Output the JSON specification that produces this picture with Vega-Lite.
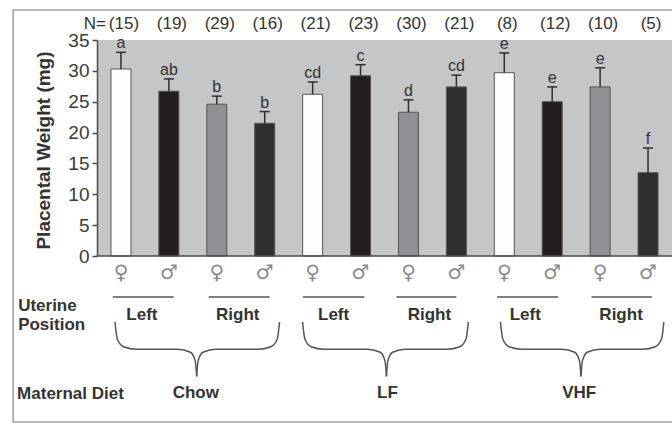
{
  "$schema": "https://vega.github.io/schema/vega-lite/v6.json",
  "width": 575,
  "height": 216,
  "autosize": {"type": "none"},
  "padding": {"left": 97, "top": 40, "right": 0, "bottom": 169},
  "background": "#ffffff",
  "config": {
    "view": {"fill": "#c4c6c8", "stroke": null},
    "font": "Liberation Sans",
    "axisY": {
      "title": "Placental Weight (mg)", "values": [0, 5, 10, 15, 20, 25, 30, 35],
      "grid": false, "domainColor": "#4a4a4a", "domainWidth": 1.5,
      "tickColor": "#4a4a4a", "tickSize": 5, "tickWidth": 1.5,
      "labelFont": "Liberation Sans", "labelFontSize": 19, "labelColor": "#3a3a3a", "labelPadding": 3,
      "titleFont": "Liberation Sans", "titleFontSize": 19, "titleFontWeight": "bold", "titleColor": "#333333",
      "titleX": -54, "titleY": 110, "titleBaseline": "middle", "titleAlign": "center", "titleAngle": -90
    }
  },
  "datasets": {
    "bars": [
      {"bar": "Chow-Left-F", "diet": "Chow", "position": "Left", "sex": "♀", "weight": 30.3, "upper": 33.0, "letter": "a", "n": 15},
      {"bar": "Chow-Left-M", "diet": "Chow", "position": "Left", "sex": "♂", "weight": 26.7, "upper": 28.7, "letter": "ab", "n": 19},
      {"bar": "Chow-Right-F", "diet": "Chow", "position": "Right", "sex": "♀", "weight": 24.6, "upper": 25.9, "letter": "b", "n": 29},
      {"bar": "Chow-Right-M", "diet": "Chow", "position": "Right", "sex": "♂", "weight": 21.5, "upper": 23.4, "letter": "b", "n": 16},
      {"bar": "LF-Left-F", "diet": "LF", "position": "Left", "sex": "♀", "weight": 26.2, "upper": 28.2, "letter": "cd", "n": 21},
      {"bar": "LF-Left-M", "diet": "LF", "position": "Left", "sex": "♂", "weight": 29.2, "upper": 31.0, "letter": "c", "n": 23},
      {"bar": "LF-Right-F", "diet": "LF", "position": "Right", "sex": "♀", "weight": 23.3, "upper": 25.3, "letter": "d", "n": 30},
      {"bar": "LF-Right-M", "diet": "LF", "position": "Right", "sex": "♂", "weight": 27.4, "upper": 29.3, "letter": "cd", "n": 21},
      {"bar": "VHF-Left-F", "diet": "VHF", "position": "Left", "sex": "♀", "weight": 29.7, "upper": 32.9, "letter": "e", "n": 8},
      {"bar": "VHF-Left-M", "diet": "VHF", "position": "Left", "sex": "♂", "weight": 25.0, "upper": 27.4, "letter": "e", "n": 12},
      {"bar": "VHF-Right-F", "diet": "VHF", "position": "Right", "sex": "♀", "weight": 27.4, "upper": 30.5, "letter": "e", "n": 10},
      {"bar": "VHF-Right-M", "diet": "VHF", "position": "Right", "sex": "♂", "weight": 13.5, "upper": 17.5, "letter": "f", "n": 5}
    ],
    "braces": [
      {"part": "Chow-a", "bx": 0.375, "by": -10.7}, {"part": "Chow-a", "bx": 0.425, "by": -13.5}, {"part": "Chow-a", "bx": 0.555, "by": -14.7}, {"part": "Chow-a", "bx": 0.825, "by": -15.1}, {"part": "Chow-a", "bx": 1.68, "by": -15.1}, {"part": "Chow-a", "bx": 1.95, "by": -15.6}, {"part": "Chow-a", "bx": 2.05, "by": -17.0}, {"part": "Chow-a", "bx": 2.08, "by": -19.5},
      {"part": "Chow-b", "bx": 2.08, "by": -19.5}, {"part": "Chow-b", "bx": 2.11, "by": -17.0}, {"part": "Chow-b", "bx": 2.21, "by": -15.6}, {"part": "Chow-b", "bx": 2.48, "by": -15.1}, {"part": "Chow-b", "bx": 3.36, "by": -15.1}, {"part": "Chow-b", "bx": 3.63, "by": -14.7}, {"part": "Chow-b", "bx": 3.76, "by": -13.5}, {"part": "Chow-b", "bx": 3.81, "by": -10.7},
      {"part": "LF-a", "bx": 4.29, "by": -10.7}, {"part": "LF-a", "bx": 4.34, "by": -13.5}, {"part": "LF-a", "bx": 4.47, "by": -14.7}, {"part": "LF-a", "bx": 4.74, "by": -15.1}, {"part": "LF-a", "bx": 5.64, "by": -15.1}, {"part": "LF-a", "bx": 5.91, "by": -15.6}, {"part": "LF-a", "bx": 6.01, "by": -17.0}, {"part": "LF-a", "bx": 6.04, "by": -19.5},
      {"part": "LF-b", "bx": 6.04, "by": -19.5}, {"part": "LF-b", "bx": 6.07, "by": -17.0}, {"part": "LF-b", "bx": 6.17, "by": -15.6}, {"part": "LF-b", "bx": 6.44, "by": -15.1}, {"part": "LF-b", "bx": 7.30, "by": -15.1}, {"part": "LF-b", "bx": 7.57, "by": -14.7}, {"part": "LF-b", "bx": 7.70, "by": -13.5}, {"part": "LF-b", "bx": 7.75, "by": -10.7},
      {"part": "VHF-a", "bx": 8.42, "by": -10.7}, {"part": "VHF-a", "bx": 8.47, "by": -13.5}, {"part": "VHF-a", "bx": 8.60, "by": -14.7}, {"part": "VHF-a", "bx": 8.87, "by": -15.1}, {"part": "VHF-a", "bx": 9.70, "by": -15.1}, {"part": "VHF-a", "bx": 9.97, "by": -15.6}, {"part": "VHF-a", "bx": 10.07, "by": -17.0}, {"part": "VHF-a", "bx": 10.10, "by": -19.5},
      {"part": "VHF-b", "bx": 10.10, "by": -19.5}, {"part": "VHF-b", "bx": 10.13, "by": -17.0}, {"part": "VHF-b", "bx": 10.23, "by": -15.6}, {"part": "VHF-b", "bx": 10.50, "by": -15.1}, {"part": "VHF-b", "bx": 11.38, "by": -15.1}, {"part": "VHF-b", "bx": 11.65, "by": -14.7}, {"part": "VHF-b", "bx": 11.78, "by": -13.5}, {"part": "VHF-b", "bx": 11.83, "by": -10.7}
    ],
    "spans": [
      {"group": "Chow Left", "from": 0.33, "to": 1.6},
      {"group": "Chow Right", "from": 2.33, "to": 3.6},
      {"group": "LF Left", "from": 4.3, "to": 5.58},
      {"group": "LF Right", "from": 6.25, "to": 7.5},
      {"group": "VHF Left", "from": 8.35, "to": 9.62},
      {"group": "VHF Right", "from": 10.32, "to": 11.58}
    ]
  },
  "resolve": {"scale": {"x": "independent"}, "axis": {"x": "independent"}},
  "layer": [
    {
      "data": {"name": "bars"},
      "transform": [{"calculate": "datum.position + ' ' + datum.sex", "as": "cls"}],
      "mark": {"type": "bar", "width": 20, "stroke": "#555555", "strokeWidth": 1},
      "encoding": {
        "x": {
          "field": "bar", "type": "nominal", "sort": null, "axis": null,
          "scale": {"type": "band", "domain": ["Chow-Left-F", "Chow-Left-M", "Chow-Right-F", "Chow-Right-M", "LF-Left-F", "LF-Left-M", "LF-Right-F", "LF-Right-M", "VHF-Left-F", "VHF-Left-M", "VHF-Right-F", "VHF-Right-M"], "paddingInner": 0, "paddingOuter": 0}
        },
        "y": {
          "field": "weight", "type": "quantitative", "title": "Placental Weight (mg)",
          "scale": {"domain": [0, 35], "nice": false, "zero": true}
        },
        "color": {
          "field": "cls", "type": "nominal", "legend": null,
          "scale": {"domain": ["Left ♀", "Left ♂", "Right ♀", "Right ♂"], "range": ["#fdfdfd", "#221e1f", "#8e9093", "#2e2f31"]}
        }
      }
    },
    {
      "data": {"values": [{"label": "baseline"}]},
      "mark": {"type": "rule", "color": "#4a4a4a", "strokeWidth": 1.5},
      "encoding": {"y": {"datum": 0, "type": "quantitative"}}
    },
    {
      "data": {"name": "bars"},
      "mark": {"type": "rule", "color": "#2f2f2f", "strokeWidth": 1.5},
      "encoding": {
        "x": {"field": "bar", "type": "nominal", "sort": null, "axis": null,
          "scale": {"type": "band", "domain": ["Chow-Left-F", "Chow-Left-M", "Chow-Right-F", "Chow-Right-M", "LF-Left-F", "LF-Left-M", "LF-Right-F", "LF-Right-M", "VHF-Left-F", "VHF-Left-M", "VHF-Right-F", "VHF-Right-M"], "paddingInner": 0, "paddingOuter": 0}},
        "y": {"field": "weight", "type": "quantitative", "title": "Placental Weight (mg)"},
        "y2": {"field": "upper"}
      }
    },
    {
      "data": {"name": "bars"},
      "mark": {"type": "tick", "orient": "horizontal", "size": 10, "thickness": 1.5, "color": "#2f2f2f", "opacity": 1},
      "encoding": {
        "x": {"field": "bar", "type": "nominal", "sort": null, "axis": null,
          "scale": {"type": "band", "domain": ["Chow-Left-F", "Chow-Left-M", "Chow-Right-F", "Chow-Right-M", "LF-Left-F", "LF-Left-M", "LF-Right-F", "LF-Right-M", "VHF-Left-F", "VHF-Left-M", "VHF-Right-F", "VHF-Right-M"], "paddingInner": 0, "paddingOuter": 0}},
        "y": {"field": "upper", "type": "quantitative", "title": "Placental Weight (mg)"}
      }
    },
    {
      "data": {"name": "bars"},
      "mark": {"type": "text", "fontSize": 16, "color": "#333333", "baseline": "alphabetic", "dy": -4},
      "encoding": {
        "x": {"field": "bar", "type": "nominal", "sort": null, "axis": null,
          "scale": {"type": "band", "domain": ["Chow-Left-F", "Chow-Left-M", "Chow-Right-F", "Chow-Right-M", "LF-Left-F", "LF-Left-M", "LF-Right-F", "LF-Right-M", "VHF-Left-F", "VHF-Left-M", "VHF-Right-F", "VHF-Right-M"], "paddingInner": 0, "paddingOuter": 0}},
        "y": {"field": "upper", "type": "quantitative", "title": "Placental Weight (mg)"},
        "text": {"field": "letter"}
      }
    },
    {
      "data": {"name": "bars"},
      "transform": [{"calculate": "'(' + datum.n + ')'", "as": "nlabel"}],
      "mark": {"type": "text", "fontSize": 17, "color": "#333333", "baseline": "alphabetic", "dy": -11, "dx": 3},
      "encoding": {
        "x": {"field": "bar", "type": "nominal", "sort": null, "axis": null,
          "scale": {"type": "band", "domain": ["Chow-Left-F", "Chow-Left-M", "Chow-Right-F", "Chow-Right-M", "LF-Left-F", "LF-Left-M", "LF-Right-F", "LF-Right-M", "VHF-Left-F", "VHF-Left-M", "VHF-Right-F", "VHF-Right-M"], "paddingInner": 0, "paddingOuter": 0}},
        "y": {"datum": 35, "type": "quantitative"},
        "text": {"field": "nlabel"}
      }
    },
    {
      "data": {"name": "bars"},
      "mark": {"type": "text", "font": "DejaVu Sans", "fontSize": 20, "color": "#8a8a8a", "baseline": "middle", "dy": 17},
      "encoding": {
        "x": {"field": "bar", "type": "nominal", "sort": null, "axis": null,
          "scale": {"type": "band", "domain": ["Chow-Left-F", "Chow-Left-M", "Chow-Right-F", "Chow-Right-M", "LF-Left-F", "LF-Left-M", "LF-Right-F", "LF-Right-M", "VHF-Left-F", "VHF-Left-M", "VHF-Right-F", "VHF-Right-M"], "paddingInner": 0, "paddingOuter": 0}},
        "y": {"datum": 0, "type": "quantitative"},
        "text": {"field": "sex"}
      }
    },
    {
      "data": {"name": "bars"},
      "transform": [{"filter": "datum.sex == '♀'"}],
      "mark": {"type": "text", "fontSize": 17, "fontWeight": "bold", "color": "#333333", "baseline": "alphabetic", "dy": 64, "dx": -3},
      "encoding": {
        "x": {"field": "bar", "type": "nominal", "sort": null, "axis": null, "bandPosition": 1,
          "scale": {"type": "band", "domain": ["Chow-Left-F", "Chow-Left-M", "Chow-Right-F", "Chow-Right-M", "LF-Left-F", "LF-Left-M", "LF-Right-F", "LF-Right-M", "VHF-Left-F", "VHF-Left-M", "VHF-Right-F", "VHF-Right-M"], "paddingInner": 0, "paddingOuter": 0}},
        "y": {"datum": 0, "type": "quantitative"},
        "text": {"field": "position"}
      }
    },
    {
      "data": {"name": "bars"},
      "transform": [{"filter": "datum.position == 'Left' && datum.sex == '♂'"}],
      "mark": {"type": "text", "fontSize": 17, "fontWeight": "bold", "color": "#333333", "baseline": "alphabetic", "dy": 142, "dx": 3},
      "encoding": {
        "x": {"field": "bar", "type": "nominal", "sort": null, "axis": null, "bandPosition": 1,
          "scale": {"type": "band", "domain": ["Chow-Left-F", "Chow-Left-M", "Chow-Right-F", "Chow-Right-M", "LF-Left-F", "LF-Left-M", "LF-Right-F", "LF-Right-M", "VHF-Left-F", "VHF-Left-M", "VHF-Right-F", "VHF-Right-M"], "paddingInner": 0, "paddingOuter": 0}},
        "y": {"datum": 0, "type": "quantitative"},
        "text": {"field": "diet"}
      }
    },
    {
      "data": {"name": "braces"},
      "mark": {"type": "line", "interpolate": "monotone", "color": "#555555", "strokeWidth": 1.5},
      "encoding": {
        "x": {"field": "bx", "type": "quantitative", "scale": {"domain": [0, 12], "nice": false, "zero": false}, "axis": null},
        "y": {"field": "by", "type": "quantitative", "title": "Placental Weight (mg)"},
        "detail": {"field": "part"}
      }
    },
    {
      "data": {"name": "spans"},
      "mark": {"type": "rule", "color": "#555555", "strokeWidth": 1.5, "yOffset": 41},
      "encoding": {
        "x": {"field": "from", "type": "quantitative", "scale": {"domain": [0, 12], "nice": false, "zero": false}, "axis": null},
        "x2": {"field": "to"},
        "y": {"datum": 0, "type": "quantitative"}
      }
    },
    {
      "data": {"values": [{"label": "frame"}]},
      "mark": {"type": "rect", "filled": false, "stroke": "#a0a0a0", "strokeWidth": 1.5},
      "encoding": {
        "x": {"datum": -1.75, "type": "quantitative", "scale": {"domain": [0, 12], "nice": false, "zero": false}, "axis": null},
        "x2": {"datum": 12.2},
        "y": {"datum": 39.85, "type": "quantitative"},
        "y2": {"datum": -26.9}
      }
    },
    {
      "data": {"values": [{"label": "N="}]},
      "mark": {"type": "text", "fontSize": 17, "color": "#333333", "align": "right", "baseline": "alphabetic", "dx": 9, "dy": -11},
      "encoding": {
        "x": {"datum": 0, "type": "quantitative", "scale": {"domain": [0, 12], "nice": false, "zero": false}, "axis": null},
        "y": {"datum": 35, "type": "quantitative"},
        "text": {"field": "label"}
      }
    },
    {
      "data": {"values": [{"label": "Uterine Position"}]},
      "mark": {"type": "text", "fontSize": 17, "fontWeight": "bold", "color": "#333333", "align": "left", "baseline": "alphabetic", "dy": 55, "lineHeight": 19},
      "encoding": {
        "x": {"datum": -1.646, "type": "quantitative", "scale": {"domain": [0, 12], "nice": false, "zero": false}, "axis": null},
        "y": {"datum": 0, "type": "quantitative"},
        "text": {"value": ["Uterine", "Position"]}
      }
    },
    {
      "data": {"values": [{"label": "Maternal Diet"}]},
      "mark": {"type": "text", "fontSize": 17, "fontWeight": "bold", "color": "#333333", "align": "left", "baseline": "alphabetic", "dy": 143},
      "encoding": {
        "x": {"datum": -1.667, "type": "quantitative", "scale": {"domain": [0, 12], "nice": false, "zero": false}, "axis": null},
        "y": {"datum": 0, "type": "quantitative"},
        "text": {"field": "label"}
      }
    }
  ]
}
